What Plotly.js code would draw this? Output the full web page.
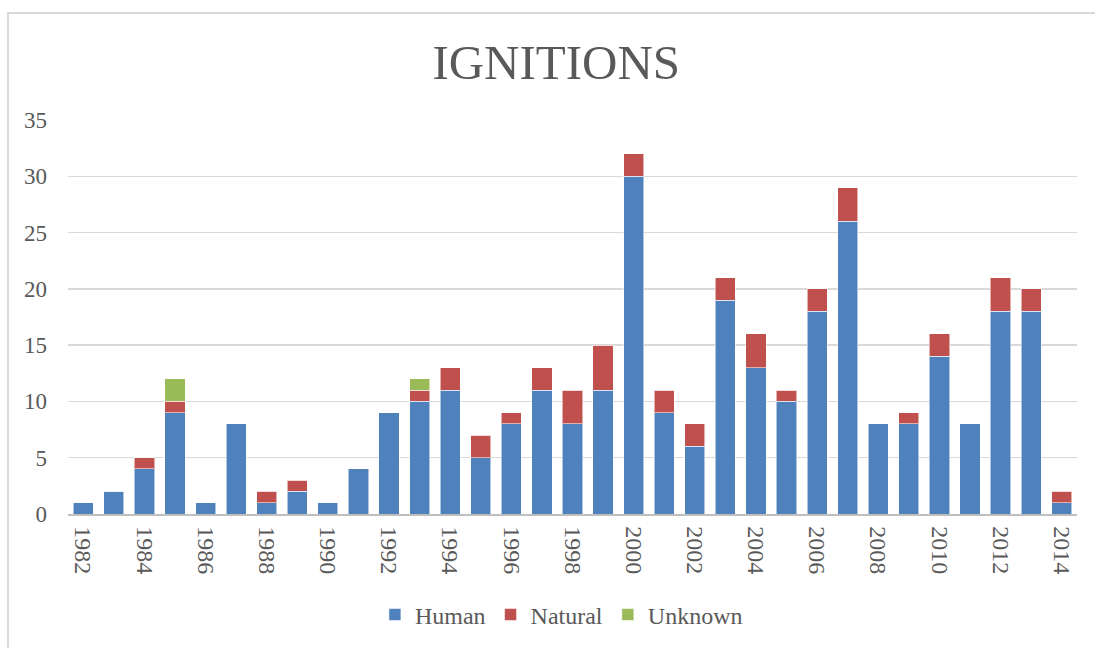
<!DOCTYPE html>
<html>
<head>
<meta charset="utf-8">
<script src="https://cdn.plot.ly/plotly-3.0.1.min.js"></script>
<style>
  html, body { margin: 0; padding: 0; background: #fff; overflow: hidden; }
  #chart { position: absolute; left: 0; top: 0; width: 1095px; height: 648px; }
  #frame { position: absolute; left: 7px; top: 12px; width: 1120px; height: 700px;
           border: 2px solid #d9d9d9; pointer-events: none; box-sizing: border-box; }
</style>
</head>
<body>
<div id="chart"></div>
<div id="frame"></div>
<script>
const years = [1982,1983,1984,1985,1986,1987,1988,1989,1990,1991,1992,1993,1994,1995,1996,1997,1998,1999,2000,2001,2002,2003,2004,2005,2006,2007,2008,2009,2010,2011,2012,2013,2014];
const human   = [1,2,4,9,1,8,1,2,1,4,9,10,11,5,8,11,8,11,30,9,6,19,13,10,18,26,8,8,14,8,18,18,1];
const natural = [0,0,1,1,0,0,1,1,0,0,0,1,2,2,1,2,3,4,2,2,2,2,3,1,2,3,0,1,2,0,3,2,1];
const unknown = [0,0,0,2,0,0,0,0,0,0,0,1,0,0,0,0,0,0,0,0,0,0,0,0,0,0,0,0,0,0,0,0,0];
const seriesNames = ["Human", "Natural", "Unknown"];
const seriesColors = ["#4f81bd", "#c0504d", "#9bbb59"];

const font = "'Liberation Serif', 'Times New Roman', serif";
const barLine = {color: "rgba(255,255,255,0.55)", width: 1};

const traces = [human, natural, unknown].map((vals, i) => ({
  type: "bar",
  x: years,
  y: vals,
  name: seriesNames[i],
  marker: {color: seriesColors[i], line: barLine},
  hoverinfo: "x+y+name"
}));

const layout = {
  width: 1095, height: 648,
  paper_bgcolor: "rgba(0,0,0,0)",
  plot_bgcolor: "rgba(0,0,0,0)",
  barmode: "stack",
  bargap: 0.34,
  margin: {l: 68, r: 18, t: 120, b: 133},
  title: {
    text: "IGNITIONS",
    font: {family: font, size: 49, color: "#595959"},
    x: 0.508, xanchor: "center", xref: "container",
    y: 0.904, yanchor: "middle", yref: "container"
  },
  xaxis: {
    type: "linear",
    range: [1981.5, 2014.5],
    tick0: 1982, dtick: 2,
    tickangle: 90,
    showgrid: false,
    zeroline: false,
    showline: true, linecolor: "#bfbfbf", linewidth: 1.5,
    ticks: "",
    ticklabelstandoff: 6,
    tickfont: {family: font, size: 24, color: "#595959"}
  },
  yaxis: {
    range: [0, 35],
    dtick: 5,
    showgrid: true, gridcolor: "#d9d9d9", gridwidth: 1.5,
    zeroline: false,
    showline: false,
    ticks: "",
    ticklabelstandoff: 20,
    tickfont: {family: font, size: 23, color: "#595959"}
  },
  legend: {
    orientation: "h",
    x: 0.489, xanchor: "center",
    y: -0.253, yanchor: "middle",
    font: {family: font, size: 24, color: "#595959"},
    itemwidth: 30,
    traceorder: "normal"
  },
  showlegend: true
};

Plotly.newPlot("chart", traces, layout, {displayModeBar: false, staticPlot: true});
</script>
</body>
</html>
